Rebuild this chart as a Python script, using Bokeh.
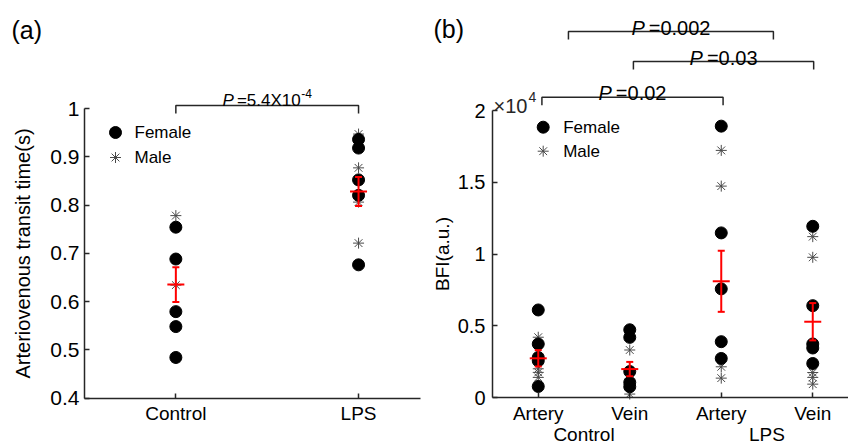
from bokeh.plotting import figure
from bokeh.layouts import row
from bokeh.models import FixedTicker, LinearAxis, Range1d, Label
from bokeh.embed import file_html
from bokeh.resources import INLINE

FONT = "Liberation Sans"
AXC = "#262626"
RED = "#ff0000"
MALEC = "#4a4a4a"

# ---------------- data: panel (a) ----------------
a_categories = ["Control", "LPS"]
a_female = [[0.754, 0.688, 0.579, 0.548, 0.484],
            [0.936, 0.918, 0.852, 0.820, 0.676]]
a_male = [[0.778, 0.634, 0.482],
          [0.947, 0.877, 0.806, 0.721]]
a_mean = [0.635, 0.828]
a_sem = [0.036, 0.030]
a_yticks = [0.4, 0.5, 0.6, 0.7, 0.8, 0.9, 1.0]
a_ytick_labels = ["0.4", "0.5", "0.6", "0.7", "0.8", "0.9", "1"]
a_pvalue = ("5.4X10", "-4")

# ---------------- data: panel (b) ----------------
b_groups = ["Control", "LPS"]
b_categories = ["Artery", "Vein", "Artery", "Vein"]
b_female = [[6100, 3730, 2790, 2560, 770],
            [4720, 4190, 1810, 1050, 750],
            [18910, 11470, 7570, 3890, 2720],
            [11930, 6400, 3730, 3450, 2370]]
b_male = [[4200, 2000, 1750, 1400],
          [3310, 1280, 240],
          [17220, 14730, 2140, 1350],
          [11210, 9770, 1740, 1400, 930]]
b_mean = [2730, 1980, 8100, 5280]
b_sem = [570, 500, 2130, 1300]
b_scale = 1e4
b_yticks = [0, 0.5, 1, 1.5, 2]
b_ytick_labels = ["0", "0.5", "1", "1.5", "2"]
b_pvalues = ["0.002", "0.03", "0.02"]

# ---------------- helpers ----------------
W = {"P": 667, "=": 584, ".": 278, "X": 667, "-": 333, "\u00d7": 584}


def tw(s, size):
    return sum(W.get(c, 556) for c in s) / 1000.0 * size


def rich(p, x, y, parts, lift=0):
    # parts: (text, font size, style, rise, extra gap after)
    total = sum(tw(t, sz) + g for t, sz, st, r, g in parts)
    off = -total / 2.0
    for t, sz, st, r, g in parts:
        p.add_layout(Label(x=x, y=y, x_offset=off, y_offset=lift + r, text=t,
                           text_font=FONT, text_font_size=f"{sz}px",
                           text_font_style=st, text_align="left",
                           text_baseline="alphabetic", text_color="black"))
        off += tw(t, sz) + g


def style_axes(p, ytick_size):
    for ax in p.axis:
        ax.axis_line_color = AXC
        ax.axis_line_width = 1.5
        ax.major_tick_line_color = AXC
        ax.major_tick_line_width = 1.5
        ax.major_tick_in = 5
        ax.major_tick_out = 0
        ax.minor_tick_line_color = None
        ax.major_label_text_font = FONT
        ax.major_label_text_color = "black"
        ax.axis_label_text_font = FONT
        ax.axis_label_text_font_style = "normal"
        ax.axis_label_text_color = "black"
    p.xaxis.major_label_text_font_size = "19px"
    p.yaxis.major_label_text_font_size = f"{ytick_size}px"


def draw_points(p, xs, female, male, mean, sem, scale=1.0):
    mx, my, fx, fy = [], [], [], []
    for i, x in enumerate(xs):
        mx += [x] * len(male[i]); my += [v / scale for v in male[i]]
        fx += [x] * len(female[i]); fy += [v / scale for v in female[i]]
    p.scatter(mx, my, marker="cross", size=11, line_color=MALEC, line_width=1)
    p.scatter(mx, my, marker="x", size=11, line_color=MALEC, line_width=1)
    p.scatter(fx, fy, marker="circle", size=12, fill_color="black", line_color="black")
    mv = [m / scale for m in mean]
    lo = [(m - s) / scale for m, s in zip(mean, sem)]
    hi = [(m + s) / scale for m, s in zip(mean, sem)]
    p.segment(x0=xs, y0=lo, x1=xs, y1=hi, line_color=RED, line_width=2)
    p.scatter(xs, mv, marker="dash", size=17, line_color=RED, line_width=2)
    p.scatter(xs + xs, lo + hi, marker="dash", size=7, line_color=RED, line_width=2)


H = 445
A_W = 426
B_W = 422

# ================= panel (a) =================
A_AX_X, A_PPU_X = 84.0, 182.7      # x = 0.5 at the y-axis
A_AX_Y, A_PPU_Y = 397.5, 482.5     # y = 0.4 at the x-axis


def axa(px):
    return 0.5 + (px - A_AX_X) / A_PPU_X


def aya(py):
    return 0.4 + (A_AX_Y - py) / A_PPU_Y


pa = figure(width=A_W, height=H, output_backend="svg", toolbar_location=None,
            x_range=Range1d(axa(0), axa(A_W)), y_range=Range1d(aya(H), aya(0)),
            min_border=0, outline_line_color=None)
pa.grid.visible = False
a_xs = [i + 1 for i in range(len(a_categories))]
pa.xaxis.ticker = FixedTicker(ticks=a_xs)
pa.xaxis.major_label_overrides = {x: c for x, c in zip(a_xs, a_categories)}
pa.xaxis.fixed_location = a_yticks[0]
pa.xaxis.bounds = (0.5, axa(420))
pa.xaxis.major_label_standoff = 5
pa.yaxis.ticker = FixedTicker(ticks=a_yticks)
pa.yaxis.major_label_overrides = {t: l for t, l in zip(a_yticks, a_ytick_labels)}
pa.yaxis.bounds = (a_yticks[0], a_yticks[-1])
pa.yaxis.fixed_location = 0.5
pa.yaxis.axis_label = "Arteriovenous transit time(s)"
pa.yaxis.axis_label_text_font_size = "20px"
pa.yaxis.axis_label_standoff = 13
pa.yaxis.major_label_standoff = 5
style_axes(pa, 21)
draw_points(pa, a_xs, a_female, a_male, a_mean, a_sem)

# bracket
by = aya(105)
dy = 8 / A_PPU_Y
pa.multi_line(xs=[[a_xs[0], a_xs[0], a_xs[1], a_xs[1]]], ys=[[by - dy, by, by, by - dy]],
              line_color=AXC, line_width=1.5)
rich(pa, (a_xs[0] + a_xs[1]) / 2, by,
     [("P", 17, "italic", 0, 3), ("=" + a_pvalue[0], 17, "normal", 0, 0.5),
      (a_pvalue[1], 12, "normal", 7, 0)],
     lift=5)

# legend (a)
pa.scatter([axa(115)], [aya(132)], marker="circle", size=12, fill_color="black", line_color="black")
pa.scatter([axa(115)], [aya(157)], marker="cross", size=11, line_color=MALEC, line_width=1)
pa.scatter([axa(115)], [aya(157)], marker="x", size=11, line_color=MALEC, line_width=1)
for lab, py in (("Female", 132), ("Male", 157)):
    pa.add_layout(Label(x=axa(134), y=aya(py), text=lab, text_font=FONT, text_font_size="17px",
                        text_baseline="middle", text_align="left", text_color="black"))
pa.add_layout(Label(x=axa(11), y=aya(29), text="(a)", text_font=FONT, text_font_size="25px",
                    text_baseline="middle", text_align="left", text_color="black"))

# ================= panel (b) =================
B_OFF = A_W
B_AX_X, B_PPU_X = 492.0, 91.5      # x = 0.5 at the y-axis
B_AX_Y, B_PPU_Y = 397.0, 143.5     # y = 0 at the x-axis


def bxa(px):
    return 0.5 + (px - B_AX_X) / B_PPU_X


def bya(py):
    return (B_AX_Y - py) / B_PPU_Y


pb = figure(width=B_W, height=H, output_backend="svg", toolbar_location=None,
            x_range=Range1d(bxa(B_OFF), bxa(B_OFF + B_W)), y_range=Range1d(bya(H), bya(0)),
            min_border=0, outline_line_color=None)
pb.grid.visible = False
b_xs = [i + 1 for i in range(len(b_categories))]
pb.xaxis.ticker = FixedTicker(ticks=b_xs)
pb.xaxis.major_label_overrides = {x: c for x, c in zip(b_xs, b_categories)}
pb.xaxis.fixed_location = b_yticks[0]
pb.xaxis.bounds = (0.5, bxa(B_OFF + B_W))
pb.xaxis.major_label_standoff = 5
pb.yaxis.ticker = FixedTicker(ticks=b_yticks)
pb.yaxis.major_label_overrides = {t: l for t, l in zip(b_yticks, b_ytick_labels)}
pb.yaxis.bounds = (b_yticks[0], b_yticks[-1])
pb.yaxis.fixed_location = 0.5
pb.yaxis.axis_label = "BFI(a.u.)"
pb.yaxis.axis_label_text_font_size = "19px"
pb.yaxis.axis_label_standoff = 2
pb.yaxis.major_label_standoff = 7
style_axes(pb, 20)

gx = [(b_xs[0] + b_xs[1]) / 2, (b_xs[2] + b_xs[3]) / 2]
gaxis = LinearAxis(ticker=FixedTicker(ticks=gx),
                   major_label_overrides={x: g for x, g in zip(gx, b_groups)},
                   fixed_location=b_yticks[0],
                   axis_line_color=None, major_tick_line_color=None,
                   minor_tick_line_color=None, major_label_standoff=20,
                   major_label_text_font=FONT, major_label_text_font_size="19px",
                   major_label_text_color="black")
pb.add_layout(gaxis, "below")

draw_points(pb, b_xs, b_female, b_male, b_mean, b_sem, b_scale)

# brackets (b): (x start, x end, y of bar in reference px)
b_brackets = [(1.33, 3.57, 31), (2.04, 4.01, 61), (1.04, 3.02, 96.7)]
for (x0, x1, py), pv in zip(b_brackets, b_pvalues):
    yb = bya(py)
    d = 8 / B_PPU_Y
    pb.multi_line(xs=[[x0, x0, x1, x1]], ys=[[yb - d, yb, yb, yb - d]],
                  line_color=AXC, line_width=1.5)
    rich(pb, (x0 + x1) / 2, yb, [("P", 20, "italic", 0, 4), ("=" + pv, 20, "normal", 0, 0)], lift=4)

# x10^4 multiplier
pb.add_layout(Label(x=bxa(493), y=bya(105), text="\u00d710", text_font=FONT, text_font_size="20px",
                    text_baseline="alphabetic", text_align="left", text_color=AXC))
pb.add_layout(Label(x=bxa(493), y=bya(105), x_offset=tw("\u00d710", 20) + 1, y_offset=9, text="4",
                    text_font=FONT, text_font_size="14px", text_baseline="alphabetic",
                    text_align="left", text_color=AXC))

# legend (b)
pb.scatter([bxa(542.7)], [bya(126.7)], marker="circle", size=12, fill_color="black", line_color="black")
pb.scatter([bxa(542.7)], [bya(150.7)], marker="cross", size=11, line_color=MALEC, line_width=1)
pb.scatter([bxa(542.7)], [bya(150.7)], marker="x", size=11, line_color=MALEC, line_width=1)
for lab, py in (("Female", 126.7), ("Male", 150.7)):
    pb.add_layout(Label(x=bxa(562.7), y=bya(py), text=lab, text_font=FONT, text_font_size="17px",
                        text_baseline="middle", text_align="left", text_color="black"))
pb.add_layout(Label(x=bxa(433), y=bya(28), text="(b)", text_font=FONT, text_font_size="25px",
                    text_baseline="middle", text_align="left", text_color="black"))

layout = row(pa, pb)
open("out.html", "w").write(file_html(layout, INLINE))
